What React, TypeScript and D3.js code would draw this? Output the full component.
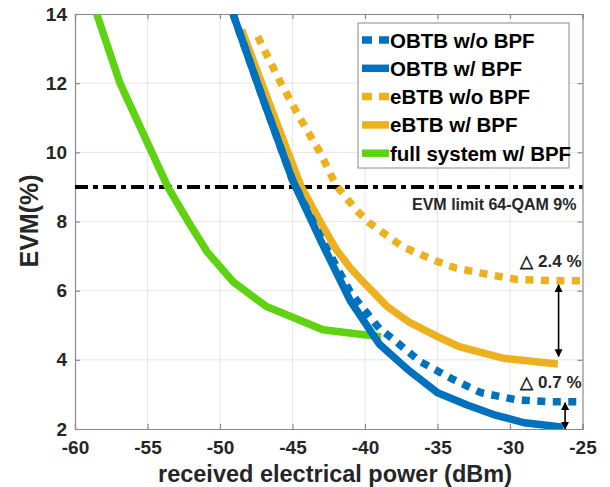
import { useEffect, useRef } from 'react';
import * as d3 from 'd3';

// tick values
const xTicks = [-60, -55, -50, -45, -40, -35, -30, -25];
const yTicks = [2, 4, 6, 8, 10, 12, 14];

// series: [dBm, EVM %]
const obtbNoBpf: [number, number][] = [
  [-49.1, 14], [-47, 11.5], [-45, 9.2], [-43, 7.5], [-41, 5.95], [-39, 4.9],
  [-38, 4.58], [-36.2, 3.95], [-34, 3.45], [-32, 3.05], [-29.5, 2.84], [-27.2, 2.79], [-25, 2.79],
];
const obtbBpf: [number, number][] = [
  [-49.1, 14], [-47, 11.5], [-45, 9.2], [-43, 7.4], [-41, 5.7], [-39, 4.45],
  [-37, 3.7], [-35, 3.05], [-33, 2.7], [-31, 2.4], [-29, 2.18], [-26.3, 2.05],
];
const ebtbNoBpf: [number, number][] = [
  [-47.4, 13.35], [-45.8, 12], [-44.5, 11.0], [-43.1, 10], [-42, 9.05], [-40.6, 8.33],
  [-39.7, 7.96], [-37.4, 7.27], [-35, 6.84], [-33.7, 6.65], [-31.9, 6.5], [-29.5, 6.32],
  [-27, 6.29], [-25, 6.29],
];
const ebtbBpf: [number, number][] = [
  [-48.5, 13.54], [-46.5, 11.3], [-44.4, 9], [-43.1, 8.0], [-42, 7.2], [-41, 6.65],
  [-40, 6.2], [-38.5, 5.55], [-37, 5.1], [-35, 4.67], [-33.5, 4.38], [-30.5, 4.05], [-26.7, 3.88],
];
const fullSystem: [number, number][] = [
  [-58.5, 14], [-56.9, 12], [-54.7, 10], [-53.6, 9], [-52.2, 8], [-50.9, 7.13],
  [-49.1, 6.26], [-46.8, 5.54], [-42.9, 4.87], [-38.9, 4.67],
];

const legendLabels = ['OBTB w/o BPF', 'OBTB w/ BPF', 'eBTB w/o BPF', 'eBTB w/ BPF', 'full system w/ BPF'];
const seriesColors = ['#0072BD', '#0072BD', '#EDB120', '#EDB120', '#5FD312'];
const seriesDotted = [true, false, true, false, false];

const evmLimit = 9;
// delta arrows: [x, yTop, yBottom, label, labelY]
const deltas: [number, number, number, string, number][] = [
  [-26.65, 6.17, 4.1, '△ 2.4 %', 6.85],
  [-26.2, 2.76, 2.0, '△ 0.7 %', 3.35],
];

const App = () => {
  const svgRef = useRef<SVGSVGElement>(null);

  useEffect(() => {
    if (!svgRef.current) return;
    const root = d3.select(svgRef.current);
    root.selectAll('*').remove();

    const margin = { top: 14, right: 27.5, bottom: 58, left: 75 };
    const width = 610 - margin.left - margin.right;
    const height = 487 - margin.top - margin.bottom;
    const font = '"Liberation Sans", Arial, sans-serif';

    const x = d3.scaleLinear().domain([-60, -25]).range([0, width]);
    const y = d3.scaleLinear().domain([2, 14]).range([height, 0]);

    const defs = root.append('defs');
    defs.append('clipPath').attr('id', 'plotclip')
      .append('rect').attr('width', width).attr('height', height);
    const marker = defs.append('marker')
      .attr('id', 'arrowhead')
      .attr('viewBox', '0 0 10 10')
      .attr('refX', 9).attr('refY', 5)
      .attr('markerWidth', 5).attr('markerHeight', 6)
      .attr('orient', 'auto-start-reverse');
    marker.append('path').attr('d', 'M0,0 L10,5 L0,10 Z').attr('fill', '#000');

    const g = root.append('g').attr('transform', `translate(${margin.left},${margin.top})`);

    // grid
    g.append('g').selectAll('line').data(xTicks.slice(1, -1)).enter().append('line')
      .attr('x1', d => x(d)).attr('x2', d => x(d)).attr('y1', 0).attr('y2', height)
      .attr('stroke', '#e6e6e6').attr('stroke-width', 1);
    g.append('g').selectAll('line').data(yTicks.slice(1, -1)).enter().append('line')
      .attr('y1', d => y(d)).attr('y2', d => y(d)).attr('x1', 0).attr('x2', width)
      .attr('stroke', '#e6e6e6').attr('stroke-width', 1);

    // axes with inward ticks
    const fmt = (d: d3.NumberValue) => String(d);
    const xAxis = g.append('g').attr('transform', `translate(0,${height})`)
      .call(d3.axisBottom(x).tickValues(xTicks).tickSize(-5).tickPadding(12).tickFormat(fmt));
    const yAxis = g.append('g')
      .call(d3.axisLeft(y).tickValues(yTicks).tickSize(-5).tickPadding(8).tickFormat(fmt));
    g.append('g').call(d3.axisTop(x).tickValues(xTicks).tickSize(-5).tickFormat(() => ''));
    g.append('g').attr('transform', `translate(${width},0)`)
      .call(d3.axisRight(y).tickValues(yTicks).tickSize(-5).tickFormat(() => ''));
    g.selectAll('.domain, .tick line').attr('stroke', '#8a8a8a').attr('stroke-width', 1.2);
    [xAxis, yAxis].forEach(a => a.selectAll('text')
      .attr('font-family', font).attr('font-size', 19).attr('font-weight', 700).attr('fill', '#262626'));

    // axis labels
    g.append('text')
      .attr('x', 335 - margin.left).attr('y', 482 - margin.top)
      .attr('text-anchor', 'middle')
      .attr('font-family', font).attr('font-size', 23.5).attr('font-weight', 700).attr('fill', '#262626')
      .text('received electrical power (dBm)');
    g.append('text')
      .attr('transform', 'rotate(-90)')
      .attr('x', -(221 - margin.top)).attr('y', -37)
      .attr('text-anchor', 'middle')
      .attr('font-family', font).attr('font-size', 25).attr('font-weight', 700).attr('fill', '#262626')
      .text('EVM(%)');

    // EVM limit
    g.append('line')
      .attr('x1', 0).attr('x2', width).attr('y1', y(evmLimit)).attr('y2', y(evmLimit))
      .attr('stroke', '#000').attr('stroke-width', 4).attr('stroke-dasharray', '13,5,5,5');
    g.append('text')
      .attr('x', width - 6).attr('y', y(evmLimit) + 23)
      .attr('text-anchor', 'end')
      .attr('font-family', font).attr('font-size', 16).attr('font-weight', 700).attr('fill', '#262626')
      .text('EVM limit 64-QAM 9%');

    // curves
    const line = d3.line<[number, number]>().x(d => x(d[0])).y(d => y(d[1]));
    const plot = g.append('g').attr('clip-path', 'url(#plotclip)');
    const allSeries = [obtbNoBpf, obtbBpf, ebtbNoBpf, ebtbBpf, fullSystem];
    const drawOrder = [4, 3, 2, 1, 0];
    drawOrder.forEach(i => {
      plot.append('path')
        .attr('d', line(allSeries[i]))
        .attr('fill', 'none')
        .attr('stroke', seriesColors[i])
        .attr('stroke-width', 7.5)
        .attr('stroke-dasharray', seriesDotted[i] ? '8,7.5' : null);
    });

    // delta arrows
    deltas.forEach(([dx, y1, y2, label, ly]) => {
      g.append('line')
        .attr('x1', x(dx)).attr('x2', x(dx)).attr('y1', y(y1)).attr('y2', y(y2))
        .attr('stroke', '#000').attr('stroke-width', 1.6)
        .attr('marker-start', 'url(#arrowhead)').attr('marker-end', 'url(#arrowhead)');
      g.append('text')
        .attr('x', width - 1).attr('y', y(ly) + 6)
        .attr('text-anchor', 'end')
        .attr('font-family', font).attr('font-size', 17).attr('font-weight', 700).attr('fill', '#262626')
        .text(label);
    });

    // legend
    const lg = g.append('g').attr('transform', `translate(${358 - margin.left},${23 - margin.top})`);
    lg.append('rect').attr('width', 211).attr('height', 145)
      .attr('fill', '#fff').attr('stroke', '#8a8a8a').attr('stroke-width', 1);
    legendLabels.forEach((lab, i) => {
      const yy = 17 + i * 28.3;
      lg.append('line')
        .attr('x1', 4).attr('x2', 31).attr('y1', yy).attr('y2', yy)
        .attr('stroke', seriesColors[i]).attr('stroke-width', 7.5)
        .attr('stroke-dasharray', seriesDotted[i] ? '10,7,10' : null);
      lg.append('text')
        .attr('x', 32).attr('y', yy + 7.5)
        .attr('font-family', font).attr('font-size', 20.5).attr('font-weight', 700).attr('fill', '#000')
        .text(lab);
    });
  }, []);

  return <svg ref={svgRef} width={610} height={487} style={{ position: 'absolute', left: 0, top: 0, background: '#fff' }} />;
};

export default App;
